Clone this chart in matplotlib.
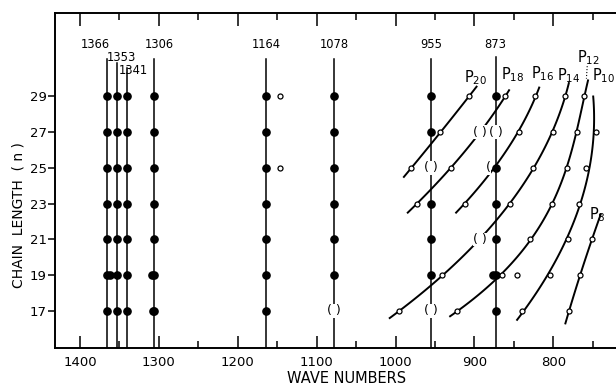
import numpy as np
import matplotlib
matplotlib.use("Agg")
import matplotlib.pyplot as plt

plt.rcParams['font.family'] = 'DejaVu Sans'
plt.rcParams['mathtext.fontset'] = 'dejavusans'

# chain lengths
n_vals = [17, 19, 21, 23, 25, 27, 29]

# band positions (cm-1) with the n values that carry a filled dot
bands = [1366, 1353, 1341, 1306, 1164, 1078, 955, 873]
band_n = {
    1366: [17, 19, 21, 23, 25, 27, 29],
    1353: [17, 19, 21, 23, 25, 27, 29],
    1341: [17, 19, 21, 23, 25, 27, 29],
    1306: [17, 19, 21, 23, 25, 27, 29],
    1164: [17, 19, 21, 23, 25, 27, 29],
    1078: [19, 21, 23, 25, 27, 29],
    955: [19, 21, 23, 27, 29],
    873: [17, 19, 21, 23, 25, 29],
}
band_top = [31.1, 30.9, 30.6, 31.1, 31.1, 31.1, 31.1, 31.2]
band_label_x = [1380, 1347, 1333, 1299, 1164, 1078, 955, 873]
band_label_y = [31.9, 31.2, 30.45, 31.9, 31.9, 31.9, 31.9, 31.9]

# doubled filled dots
extra_x = [1362, 1309, 1308, 877]
extra_n = [19, 19, 17, 19]

# progression bands P_k: n and wave number of the open circles
prog = {
    20: ([25, 27, 29], [980, 943, 907]),
    18: ([23, 25, 27, 29], [973, 930, 893, 861]),
    16: ([23, 25, 27, 29], [912, 877, 843, 823]),
    14: ([17, 19, 21, 23, 25, 27, 29], [995, 941, 893, 855, 826, 801, 785]),
    12: ([17, 19, 21, 23, 25, 27, 29], [922, 865, 830, 802, 783, 770, 761]),
    10: ([17, 19, 21, 23, 25, 27], [840, 804, 781, 768, 758, 746]),
    8: ([17, 19, 21], [780, 766, 751]),
}
# points shown in parentheses instead of circles
paren_pts = {18: [27], 16: [25], 14: [21]}
# n range covered by each drawn curve
prog_span = {20: (24.5, 29.55), 18: (22.5, 29.35), 16: (22.5, 29.5),
             14: (16.6, 29.75), 12: (16.7, 29.9), 10: (16.5, 29.0), 8: (16.3, 22.4)}
prog_label = {20: (899, 30.05), 18: (852, 30.2), 16: (814, 30.3), 14: (780, 30.15),
              12: (756, 31.2), 10: (736, 30.15), 8: (744, 22.4)}

# stray open circles
stray_x = [1147, 1147, 846]
stray_n = [29, 25, 19]

# parentheses on the band lines
paren_x = [1078, 955, 955, 873]
paren_n = [17, 17, 25, 27]

fig = plt.figure(figsize=(6.16, 3.84), dpi=100)
ax = fig.add_axes([0.0893, 0.0945, 0.9107, 0.8729])
ax.set_xlim(1431.7, 720.5)
ax.set_ylim(14.94, 33.7)

for b, top in zip(bands, band_top):
    ax.plot([b, b], [14.94, top], color='black', lw=1.1, zorder=2)
    ns = band_n[b]
    ax.plot([b] * len(ns), ns, 'o', color='black', ms=5.2, zorder=3)
for b, lx, ly in zip(bands, band_label_x, band_label_y):
    ax.text(lx, ly, str(b), ha='center', va='center', fontsize=8.3)

ax.plot(extra_x, extra_n, 'o', color='black', ms=5.2, zorder=3)

for k, (ns, xs) in prog.items():
    ns = np.array(ns, float)
    xs = np.array(xs, float)
    deg = 3 if len(ns) >= 7 else 2
    coef = np.polyfit(ns, xs, deg)
    t = np.linspace(prog_span[k][0], prog_span[k][1], 120)
    ax.plot(np.polyval(coef, t), t, color='black', lw=1.4, zorder=2)
    skip = paren_pts.get(k, [])
    cx = [x for x, n in zip(xs, ns) if n not in skip]
    cn = [n for n in ns if n not in skip]
    ax.plot(cx, cn, 'o', mfc='white', mec='black', mew=0.9, ms=3.6, zorder=4)
    for n in skip:
        x = xs[list(ns).index(n)]
        if k == 16:
            ax.text(x + 6, n, '(', ha='center', va='center', fontsize=9,
                    bbox=dict(fc='white', ec='none', pad=0.2), zorder=3)
        else:
            ax.text(x, n, '( )', ha='center', va='center', fontsize=9,
                    bbox=dict(fc='white', ec='none', pad=0.3), zorder=3)
    lx, ly = prog_label[k]
    ax.text(lx, ly, r'$\mathrm{P}_{%d}$' % k, ha='center', va='center', fontsize=10.5)

# small pointer from P12 label to its curve
ax.plot([757, 758], [30.7, 30.0], color='black', lw=0.8, ls=':')

ax.plot(stray_x, stray_n, 'o', mfc='white', mec='black', mew=0.9, ms=3.6, zorder=4)

for x, n in zip(paren_x, paren_n):
    ax.text(x, n, '( )', ha='center', va='center', fontsize=9,
            bbox=dict(fc='white', ec='none', pad=0.3), zorder=3.5)

ax.spines['right'].set_visible(False)
for s in ['left', 'bottom', 'top']:
    ax.spines[s].set_linewidth(1.4)

ax.set_xticks([1400, 1300, 1200, 1100, 1000, 900, 800])
ax.set_xticks(np.arange(1350, 700, -100), minor=True)
ax.set_xticklabels(['1400', '1300', '1200', '1100', '1000', '900', '800'])
ax.tick_params(axis='x', which='major', direction='in', length=9, width=1.1,
               top=True, labelsize=9.5, pad=6)
ax.tick_params(axis='x', which='minor', direction='in', length=5, width=1.1, top=True)
ax.set_yticks(n_vals)
ax.tick_params(axis='y', direction='out', length=5, width=1.1, labelsize=9.5, pad=1)

ax.set_xlabel('WAVE NUMBERS', fontsize=10.5)
ax.xaxis.set_label_coords(0.52, -0.068)
ax.set_ylabel('CHAIN  LENGTH  ( n )', fontsize=10)
ax.yaxis.set_label_coords(-0.053, 0.396)

fig.savefig('out.png', dpi=100)
